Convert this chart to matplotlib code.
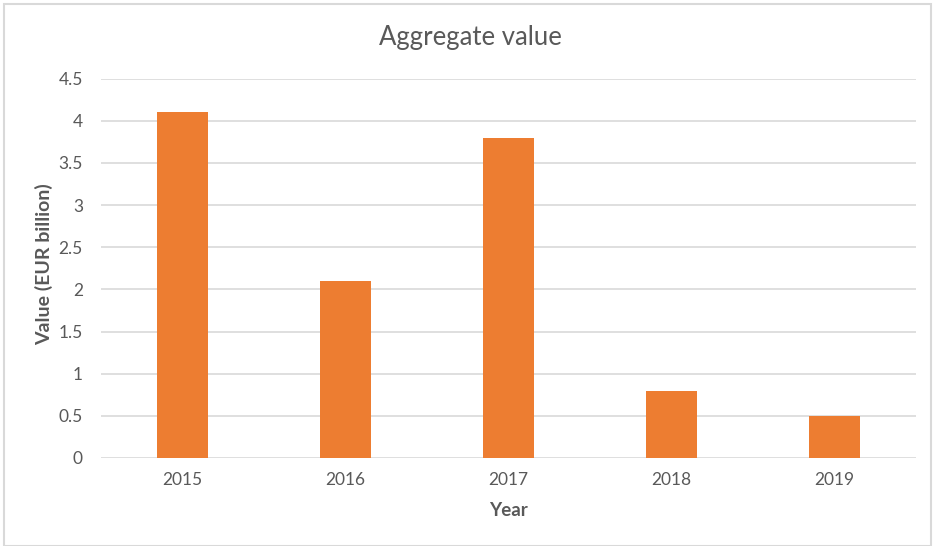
import matplotlib
matplotlib.use("Agg")
import matplotlib.pyplot as plt
from matplotlib.patches import Rectangle

plt.rcParams['font.family'] = ['Lato', 'DejaVu Sans']

years = ["2015", "2016", "2017", "2018", "2019"]
values = [4.1, 2.1, 3.8, 0.8, 0.5]
yticks = [0, 0.5, 1, 1.5, 2, 2.5, 3, 3.5, 4, 4.5]
yticklabels = ["0", "0.5", "1", "1.5", "2", "2.5", "3", "3.5", "4", "4.5"]

W, H = 933, 546
fig = plt.figure(figsize=(W / 100, H / 100), dpi=100)
fig.patches.append(Rectangle((4 / W, 0), (931 - 4) / W, (546 - 4) / H,
                             transform=fig.transFigure, fill=False,
                             edgecolor="#d9d9d9", linewidth=1.5))

ax_w = 916 - 101
ax = fig.add_axes([101 / W, (H - 458) / H, ax_w / W, (458 - 78.5) / H])
x = list(range(len(years)))
ax.bar(x, values, width=0.31, color="#ED7D31", zorder=3)
ax.set_xlim(-0.5, len(years) - 0.5)
ax.set_ylim(0, 4.5)
ax.set_yticks(yticks)
ax.set_yticklabels(yticklabels)
ax.set_xticks(x)
ax.set_xticklabels(years)
ax.grid(axis="y", color="#d9d9d9", linewidth=1.2, zorder=0)
for s in ax.spines.values():
    s.set_visible(False)
ax.tick_params(axis="both", length=0, labelsize=12.5, colors="#595959")
ax.tick_params(axis="y", pad=13)
ax.tick_params(axis="x", pad=10)

ax.set_xlabel("Year", fontsize=13.5, fontweight="bold", color="#595959", labelpad=10)
ax.set_ylabel("Value (EUR billion)", fontsize=14, fontweight="bold", color="#595959",
              va="center", ha="center")
ax.yaxis.set_label_coords((44 - 101) / ax_w, 0.51)
fig.text(470 / W, 1 - 38 / H, "Aggregate value", ha="center", va="center",
         fontsize=18.5, color="#595959")

fig.savefig("out.png", dpi=100)
